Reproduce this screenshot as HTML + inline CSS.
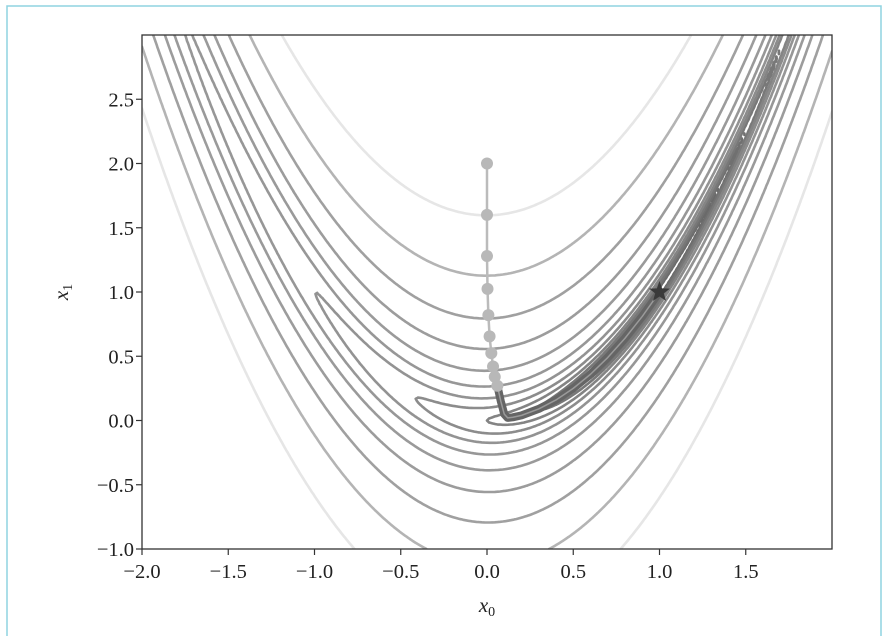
<!DOCTYPE html>
<html><head><meta charset="utf-8"><style>
html,body{margin:0;padding:0;background:#fff;}
svg text{font-family:"Liberation Serif",serif;fill:#222;}
</style></head><body>
<svg id="chart" width="884" height="636" viewBox="0 0 884 636" xmlns="http://www.w3.org/2000/svg">
<rect x="7" y="6" width="874" height="640" fill="none" stroke="#8fd3e0" stroke-width="1.5"/>
<defs><clipPath id="clip"><rect x="142" y="35" width="690" height="514"/></clipPath></defs>
<g id="contours" clip-path="url(#clip)"></g>
<g id="path" clip-path="url(#clip)"></g>
<rect x="142" y="35" width="690" height="514" fill="none" stroke="#333" stroke-width="1.3"/>
<g id="axes"></g>
<text x="487" y="612" font-size="21" font-style="italic" text-anchor="middle">x<tspan font-size="14" dy="4" font-style="normal">0</tspan></text>
<text transform="translate(68,292) rotate(-90)" font-size="21" font-style="italic" text-anchor="middle">x<tspan font-size="14" dy="4" font-style="normal">1</tspan></text>
</svg>
<script>
const xTicks=[-2.0,-1.5,-1.0,-0.5,0.0,0.5,1.0,1.5];
const yTicks=[-1.0,-0.5,0.0,0.5,1.0,1.5,2.0,2.5];
const levels=[0.125,0.25,0.5,1,2,4,8,16,32,64,128,256];
const levelColors=["#6a6a6a","#707070","#787878","#848484","#8c8c8c","#939393","#979797","#9a9a9a","#9c9c9c","#a0a0a0","#b4b4b4","#e6e6e6"];
const pathX=[0,0,0,0.003,0.008,0.015,0.025,0.035,0.045,0.06,0.08,0.1,0.12,0.15,0.2,0.3,0.4,0.5,0.6,0.7,0.8,0.9,1.0];
const pathY=[2,1.6,1.28,1.024,0.82,0.655,0.524,0.42,0.34,0.27,0.15,0.05,0.02,0.025,0.04,0.09,0.16,0.25,0.36,0.49,0.64,0.81,1.0];
const dotCount=10;
const star=[1,1];

const NS="http://www.w3.org/2000/svg";
const X=x=>142+(x+2)*690/4, Y=y=>549-(y+1)*514/4;
const f=(x,y)=>(1-x)*(1-x)+100*(y-x*x)*(y-x*x);
function mk(t,a,p){const e=document.createElementNS(NS,t);for(const k in a)e.setAttribute(k,a[k]);p.appendChild(e);return e;}

const ax=document.getElementById('axes');
xTicks.forEach(v=>{
 const l=mk('line',{x1:X(v),x2:X(v),y1:549,y2:555,stroke:'#333','stroke-width':1.2},ax);
 
 
 const t=mk('text',{x:X(v),y:578,'font-size':20.5,'text-anchor':'middle'},ax);
 t.textContent=(v<0?'\u2212':'')+Math.abs(v).toFixed(1);
 
 
});
yTicks.forEach(v=>{
 const l=mk('line',{x1:136,x2:142,y1:Y(v),y2:Y(v),stroke:'#333','stroke-width':1.2},ax);
 
 
 const t=mk('text',{x:134,y:Y(v)+7,'font-size':20.5,'text-anchor':'end'},ax);
 t.textContent=(v<0?'\u2212':'')+Math.abs(v).toFixed(1);
 
 
});

const cg=document.getElementById('contours');
const N=260,M=260,x0=-2,x1=2,y0=-1,y1=3;
const gx=i=>x0+(x1-x0)*i/N, gy=j=>y0+(y1-y0)*j/M;
const F=[];for(let j=0;j<=M;j++){const r=[];for(let i=0;i<=N;i++)r.push(f(gx(i),gy(j)));F.push(r);}
levels.forEach((lv,li)=>{
 let d='';
 const lerp=(a,b,va,vb)=>a+(b-a)*(lv-va)/(vb-va);
 for(let j=0;j<M;j++)for(let i=0;i<N;i++){
  const a=F[j][i],b=F[j][i+1],c=F[j+1][i+1],e=F[j+1][i];
  const pts=[];
  if((a<lv)!==(b<lv))pts.push([lerp(gx(i),gx(i+1),a,b),gy(j)]);
  if((b<lv)!==(c<lv))pts.push([gx(i+1),lerp(gy(j),gy(j+1),b,c)]);
  if((c<lv)!==(e<lv))pts.push([lerp(gx(i+1),gx(i),c,e),gy(j+1)]);
  if((e<lv)!==(a<lv))pts.push([gx(i),lerp(gy(j+1),gy(j),e,a)]);
  for(let k=0;k+1<pts.length;k+=2)d+='M'+X(pts[k][0]).toFixed(1)+' '+Y(pts[k][1]).toFixed(1)+'L'+X(pts[k+1][0]).toFixed(1)+' '+Y(pts[k+1][1]).toFixed(1);
 }
 const p=mk('path',{d:d,fill:'none',stroke:levelColors[li],'stroke-width':2.6,'stroke-linecap':'round'},cg);
 
 
});

const pg=document.getElementById('path');
const first=pathX.slice(0,dotCount+1).map((x,i)=>X(x)+','+Y(pathY[i])).join(' ');
const l1=mk('polyline',{points:first,fill:'none',stroke:'#bbb','stroke-width':2.5},pg);


const rest=pathX.slice(dotCount-1).map((x,i)=>X(x)+','+Y(pathY[i+dotCount-1])).join(' ');
const l2=mk('polyline',{points:rest,fill:'none',stroke:'#656565','stroke-width':8,'stroke-linejoin':'round','stroke-linecap':'round'},pg);


const l3=mk('polyline',{points:rest,fill:'none',stroke:'#9a9a9a','stroke-width':1.5,'stroke-linejoin':'round'},pg);


for(let i=0;i<dotCount;i++){
 const c=mk('circle',{cx:X(pathX[i]),cy:Y(pathY[i]),r:6,fill:'#b8b8b8'},pg);
 
 
}
const sx=X(star[0]),sy=Y(star[1]);let sp='';
for(let k=0;k<10;k++){const r=k%2?4.5:11,a=-Math.PI/2+k*Math.PI/5;sp+=(sx+r*Math.cos(a)).toFixed(1)+','+(sy+r*Math.sin(a)).toFixed(1)+' ';}
const st=mk('polygon',{points:sp,fill:'#3a3a3a'},pg);


</script>
</body></html>
